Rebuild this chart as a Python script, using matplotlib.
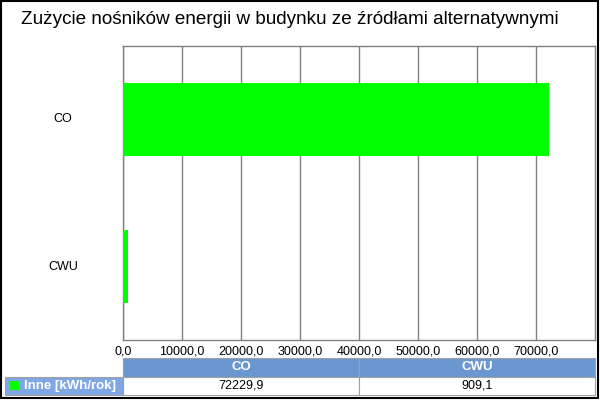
import matplotlib.pyplot as plt
from matplotlib.patches import Rectangle
from matplotlib.transforms import blended_transform_factory

plt.rcParams['font.family'] = ['Liberation Sans', 'DejaVu Sans']

title = "Zużycie nośników energii w budynku ze źródłami alternatywnymi"
categories = ["CO", "CWU"]
values = [72229.9, 909.1]
series_name = "Inne [kWh/rok]"
xticks = [0, 10000, 20000, 30000, 40000, 50000, 60000, 70000]

green = "#00ff00"
header_blue = "#6b97d1"
label_blue = "#7fa7e6"

fig = plt.figure(figsize=(6, 4), dpi=100)

# plot area in pixels: x 123..595, y 46..340
ax = fig.add_axes([123 / 600, 1 - 340 / 400, 472 / 600, 294 / 400])
ypos = list(range(len(categories)))
ax.barh(ypos, values, height=0.5, color=green, zorder=3)
ax.set_ylim(len(categories) - 0.5, -0.5)
ax.set_xlim(0, 80000)
ax.set_xticks(xticks)
ax.set_xticklabels([f"{t:.1f}".replace(".", ",") for t in xticks], fontsize=9)
ax.tick_params(axis='x', length=0, pad=4)
ax.set_yticks([])
ax.grid(axis='x', color="#808080", linewidth=1, zorder=0)
for s in ax.spines.values():
    s.set_color("#808080")
    s.set_linewidth(1)

tr = blended_transform_factory(ax.transAxes, ax.transData)
for y, c in zip(ypos, categories):
    ax.text(-0.127, y, c, transform=tr, ha='center', va='center', fontsize=9)

fig.text(290 / 600, 1 - 19 / 400, title, ha='center', va='center', fontsize=13.6)

# table underneath, drawn in pixel space
tab = fig.add_axes([0, 0, 1, 1])
tab.set_xlim(0, 600)
tab.set_ylim(400, 0)
tab.axis('off')

col_x = [123, 359, 595]
for i, c in enumerate(categories):
    x0, x1 = col_x[i], col_x[i + 1]
    tab.add_patch(Rectangle((x0, 358), x1 - x0, 19, facecolor=header_blue,
                            edgecolor="#a0a0a0", linewidth=0.8))
    tab.text((x0 + x1) / 2, 367.5, c, ha='center', va='center', color='white',
             fontsize=9.5, fontweight='bold')
    tab.add_patch(Rectangle((x0, 377), x1 - x0, 18, facecolor='white',
                            edgecolor="#a0a0a0", linewidth=0.8))
    tab.text((x0 + x1) / 2, 386, f"{values[i]:.1f}".replace(".", ","),
             ha='center', va='center', fontsize=9)

tab.add_patch(Rectangle((5, 377), 118, 18, facecolor=label_blue,
                        edgecolor="#a0a0a0", linewidth=0.8))
tab.add_patch(Rectangle((10, 381), 9, 9, facecolor=green, edgecolor='none'))
tab.text(24, 386, series_name, ha='left', va='center', color='white',
         fontsize=9.5, fontweight='bold')

# outer black frame
tab.add_patch(Rectangle((1, 1), 597, 397, facecolor='none', edgecolor='black',
                        linewidth=1.5))

fig.savefig("out.png", dpi=100)
